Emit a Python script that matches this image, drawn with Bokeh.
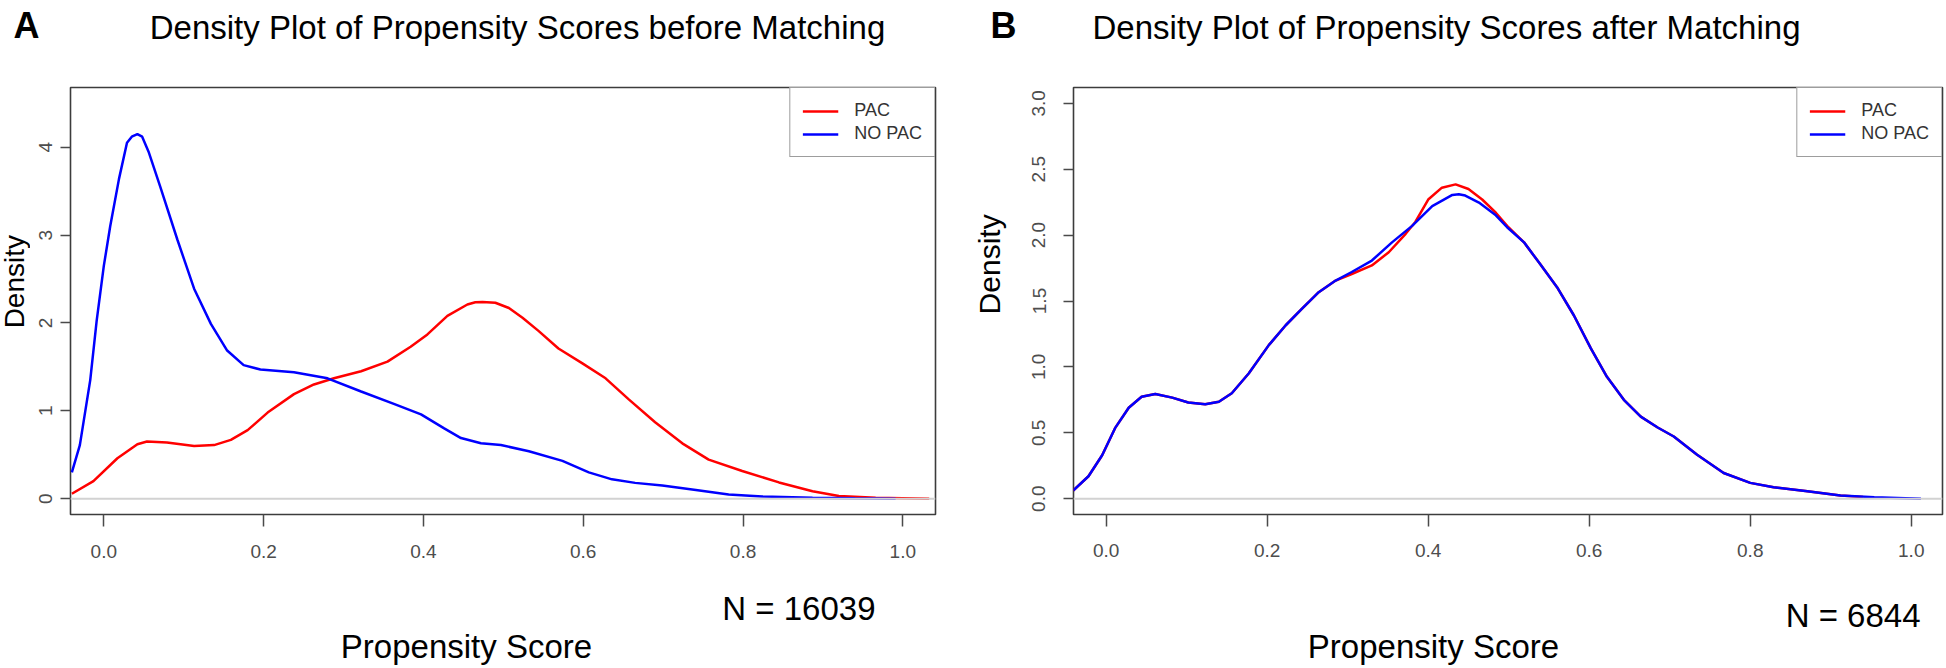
import math
from bokeh.plotting import figure
from bokeh.models import Label, Span, FixedTicker, PrintfTickFormatter, Legend, LegendItem, Range1d
from bokeh.layouts import row, column
from bokeh.embed import file_html
from bokeh.resources import INLINE

FONT = "Liberation Sans"

# ---------------- data ----------------
tick_x = [0.0, 0.2, 0.4, 0.6, 0.8, 1.0]
tick_y_a = [0, 1, 2, 3, 4]
tick_y_b = [0.0, 0.5, 1.0, 1.5, 2.0, 2.5, 3.0]
series_names = ["PAC", "NO PAC"]
title_a = "Density Plot of Propensity Scores before Matching"
title_b = "Density Plot of Propensity Scores after Matching"
n_a = "N = 16039"
n_b = "N = 6844"
x_label = "Propensity Score"
y_label = "Density"

# Panel A (before matching)
a_nopac_x = [-0.040, -0.030, -0.017, -0.009, 0.000, 0.008, 0.019, 0.029, 0.035, 0.042,
             0.048, 0.056, 0.071, 0.092, 0.113, 0.134, 0.154, 0.175, 0.196, 0.238,
             0.280, 0.322, 0.363, 0.397, 0.426, 0.447, 0.472, 0.497, 0.532, 0.574,
             0.607, 0.636, 0.665, 0.699, 0.741, 0.782, 0.824, 0.887, 0.940, 0.991]
a_nopac_y = [0.30, 0.61, 1.35, 2.02, 2.65, 3.10, 3.64, 4.05, 4.12, 4.15,
             4.12, 3.95, 3.54, 2.95, 2.39, 1.99, 1.69, 1.52, 1.47, 1.44,
             1.37, 1.22, 1.08, 0.96, 0.80, 0.69, 0.63, 0.61, 0.54, 0.43,
             0.30, 0.22, 0.18, 0.15, 0.10, 0.048, 0.026, 0.011, 0.005, 0.0]
a_pac_x = [-0.040, -0.013, 0.017, 0.042, 0.054, 0.079, 0.113, 0.138, 0.159, 0.180,
           0.205, 0.238, 0.263, 0.288, 0.322, 0.355, 0.384, 0.405, 0.430, 0.455,
           0.465, 0.474, 0.490, 0.507, 0.524, 0.544, 0.569, 0.599, 0.628, 0.657,
           0.690, 0.724, 0.757, 0.799, 0.845, 0.887, 0.920, 0.966, 1.033]
a_pac_y = [0.056, 0.20, 0.46, 0.62, 0.65, 0.64, 0.60, 0.61, 0.67, 0.78,
           0.98, 1.19, 1.30, 1.37, 1.45, 1.56, 1.73, 1.87, 2.08, 2.21,
           2.235, 2.24, 2.23, 2.17, 2.06, 1.91, 1.71, 1.54, 1.37, 1.13,
           0.87, 0.63, 0.445, 0.315, 0.185, 0.085, 0.03, 0.01, 0.0]

# Panel B (after matching)
b_nopac_x = [-0.041, -0.022, -0.005, 0.011, 0.028, 0.044, 0.061, 0.082, 0.102, 0.123,
             0.140, 0.156, 0.177, 0.202, 0.223, 0.243, 0.264, 0.285, 0.305, 0.330,
             0.355, 0.380, 0.405, 0.430, 0.438, 0.446, 0.463, 0.484, 0.498, 0.519,
             0.539, 0.560, 0.581, 0.602, 0.622, 0.643, 0.664, 0.685, 0.705, 0.734,
             0.767, 0.800, 0.829, 0.871, 0.912, 0.954, 1.012]
b_nopac_y = [0.062, 0.17, 0.33, 0.535, 0.69, 0.774, 0.795, 0.767, 0.73, 0.716,
             0.736, 0.80, 0.95, 1.165, 1.316, 1.44, 1.567, 1.655, 1.72, 1.807,
             1.945, 2.07, 2.22, 2.305, 2.31, 2.30, 2.247, 2.15, 2.06, 1.945,
             1.78, 1.605, 1.39, 1.14, 0.925, 0.75, 0.623, 0.54, 0.472, 0.334,
             0.195, 0.12, 0.087, 0.057, 0.024, 0.011, 0.0]
b_pac_x = [-0.041, -0.022, -0.005, 0.011, 0.028, 0.044, 0.061, 0.082, 0.102, 0.123,
           0.140, 0.156, 0.177, 0.202, 0.223, 0.243, 0.264, 0.285, 0.305, 0.330,
           0.351, 0.372, 0.384, 0.400, 0.417, 0.434, 0.450, 0.467, 0.484, 0.498,
           0.519, 0.539, 0.560, 0.581, 0.602, 0.622, 0.643, 0.664, 0.685, 0.705,
           0.734, 0.767, 0.800, 0.829, 0.871, 0.912, 0.940]
b_pac_y = [0.062, 0.17, 0.33, 0.535, 0.69, 0.774, 0.795, 0.767, 0.73, 0.716,
           0.736, 0.80, 0.95, 1.165, 1.316, 1.44, 1.567, 1.655, 1.705, 1.77,
           1.87, 2.01, 2.10, 2.27, 2.36, 2.385, 2.35, 2.27, 2.17, 2.07,
           1.945, 1.78, 1.605, 1.39, 1.14, 0.925, 0.75, 0.623, 0.54, 0.472,
           0.334, 0.195, 0.12, 0.087, 0.057, 0.024, 0.012]

RED = "#ff0000"
BLUE = "#0000ff"
AXIS_GRAY = "#4a4a4a"
LABEL_GRAY = "#4d4d4d"

# page layout in window pixels (Bokeh's page template has no body margin)
PAGE_L, PAGE_R = 0, 1944
HEAD_T, MID_T, FOOT_T, PAGE_B = 0, 66, 585, 666


def text_box(x0, x1, y0, y1, labels):
    """A blank figure whose frame covers the box; data units = window pixels."""
    p = figure(width=x1 - x0, height=y1 - y0, output_backend="svg", toolbar_location=None,
               x_range=Range1d(x0, x1), y_range=Range1d(y1, y0),
               x_axis_location=None, y_axis_location=None,
               min_border=0, min_border_left=0, min_border_right=0,
               min_border_top=0, min_border_bottom=0)
    p.outline_line_color = None
    p.xgrid.grid_line_color = None
    p.ygrid.grid_line_color = None
    p.background_fill_color = "white"
    p.border_fill_color = "white"
    for (px, py, txt, size, align, bold, angle) in labels:
        p.add_layout(Label(x=px, y=py, text=txt, text_font=FONT, text_font_size=size,
                           text_align=align, text_baseline="middle",
                           text_font_style="bold" if bold else "normal",
                           text_color="black", angle=angle))
    return p


def panel(x0, x1, fl, fr, ft, fb, xr, yr, ticks_y, yfmt, ystand, xstand,
          pac_x, pac_y, nopac_x, nopac_y):
    p = figure(width=x1 - x0, height=FOOT_T - MID_T, output_backend="svg",
               toolbar_location=None, x_range=Range1d(*xr), y_range=Range1d(*yr),
               min_border_left=fl - x0, min_border_right=x1 - fr,
               min_border_top=ft - MID_T, min_border_bottom=FOOT_T - fb)
    p.background_fill_color = "white"
    p.border_fill_color = "white"
    p.outline_line_color = "#3c3c3c"
    p.outline_line_width = 1.6
    p.xgrid.grid_line_color = None
    p.ygrid.grid_line_color = None

    for ax in (p.xaxis[0], p.yaxis[0]):
        ax.axis_line_color = None
        ax.minor_tick_line_color = None
        ax.major_tick_in = 0
        ax.major_tick_line_color = AXIS_GRAY
        ax.major_tick_line_width = 1.5
        ax.major_label_text_font = FONT
        ax.major_label_text_font_size = "19px"
        ax.major_label_text_color = LABEL_GRAY
    p.xaxis[0].ticker = FixedTicker(ticks=tick_x)
    p.xaxis[0].formatter = PrintfTickFormatter(format="%.1f")
    p.xaxis[0].major_tick_out = 12
    p.xaxis[0].major_label_standoff = xstand
    p.yaxis[0].ticker = FixedTicker(ticks=ticks_y)
    p.yaxis[0].formatter = PrintfTickFormatter(format=yfmt)
    p.yaxis[0].major_tick_out = 10
    p.yaxis[0].major_label_orientation = "parallel"
    p.yaxis[0].major_label_standoff = ystand

    p.add_layout(Span(location=0, dimension="width", line_color="#d2d2d2", line_width=2))

    r_pac = p.line(pac_x, pac_y, line_color=RED, line_width=2.5)
    r_nopac = p.line(nopac_x, nopac_y, line_color=BLUE, line_width=2.5)

    leg = Legend(items=[LegendItem(label=series_names[0], renderers=[r_pac]),
                        LegendItem(label=series_names[1], renderers=[r_nopac])],
                 location="top_right", margin=0, padding=12, spacing=2,
                 glyph_width=36, glyph_height=16, label_height=16, label_standoff=16,
                 label_text_font=FONT, label_text_font_size="18px", label_text_color="#333333",
                 border_line_color="#3c3c3c", border_line_width=1.5,
                 background_fill_color="white", background_fill_alpha=1.0)
    p.add_layout(leg)
    return p


header = text_box(PAGE_L, PAGE_R, HEAD_T, MID_T, [
    (26, 25, "A", "36px", "center", True, 0),
    (517, 26.5, title_a, "33px", "center", False, 0),
    (1003, 25, "B", "36px", "center", True, 0),
    (1446, 26.5, title_b, "33px", "center", False, 0),
])

footer = text_box(PAGE_L, PAGE_R, FOOT_T, PAGE_B, [
    (875, 607.5, n_a, "33px", "right", False, 0),
    (466, 646, x_label, "33px", "center", False, 0),
    (1920, 615, n_b, "33px", "right", False, 0),
    (1433, 645.5, x_label, "33px", "center", False, 0),
])

strip_a = text_box(0, 30, MID_T, FOOT_T, [
    (14, 302, y_label, "28px", "center", False, math.pi / 2),
])
strip_b = text_box(973, 1007, MID_T, FOOT_T, [
    (989, 281, y_label, "30px", "center", False, math.pi / 2),
])

pa = panel(30, 973, 70, 935, 87, 525, (-0.0417, 1.0409), (-0.18, 4.68), tick_y_a, "%d",
           8, 18, a_pac_x, a_pac_y, a_nopac_x, a_nopac_y)
pb = panel(1007, 1944, 1073, 1942, 84, 514, (-0.0406, 1.0388), (-0.12, 3.12), tick_y_b, "%.1f",
           18, 17, b_pac_x, b_pac_y, b_nopac_x, b_nopac_y)

layout = column(header, row(strip_a, pa, strip_b, pb), footer)
open("out.html", "w").write(file_html(layout, INLINE))
